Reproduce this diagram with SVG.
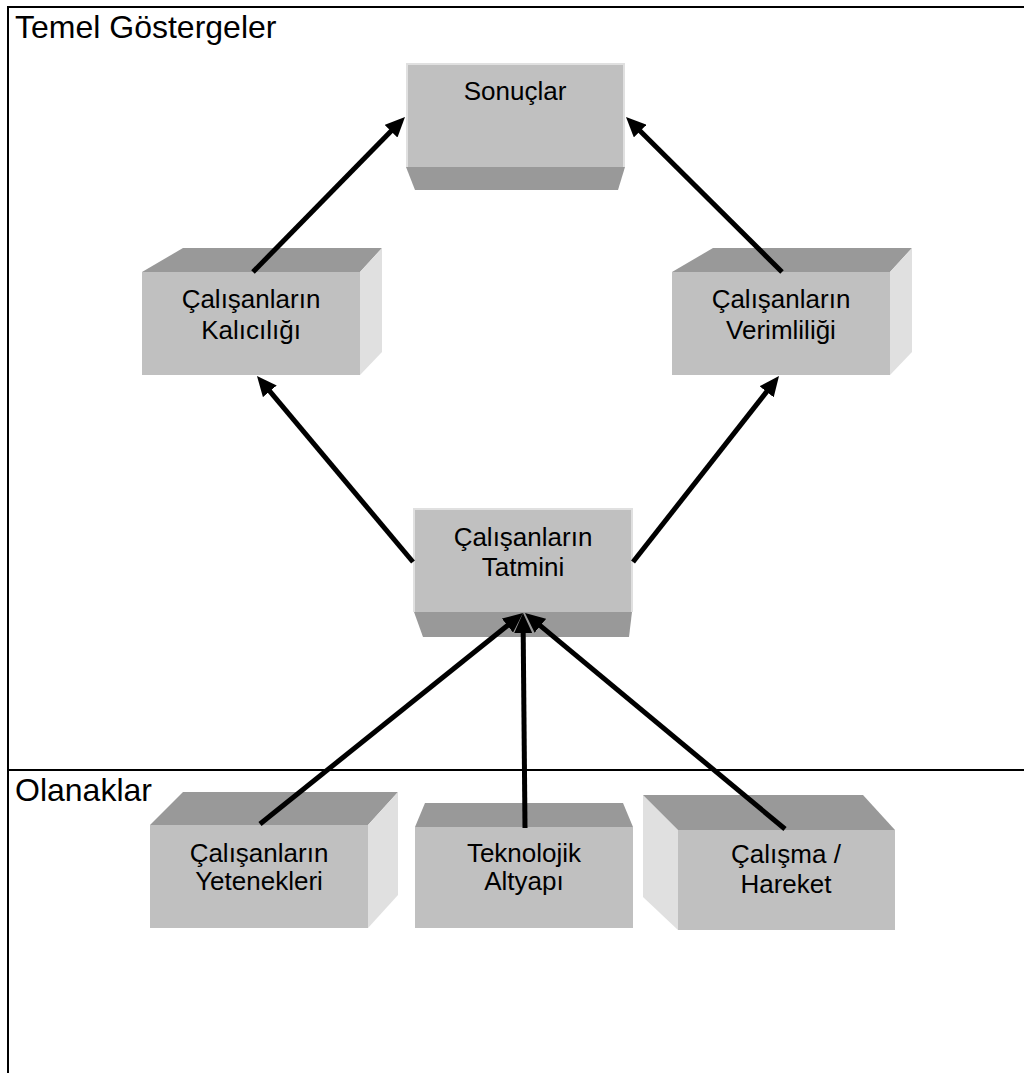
<svg xmlns="http://www.w3.org/2000/svg" width="1024" height="1073" viewBox="0 0 1024 1073">
<defs>
<style>
.frame{stroke:#000;stroke-width:2;fill:none}
.front{fill:#c0c0c0}
.dark{fill:#999999}
.light{fill:#e0e0e0}
.t{font-family:"Liberation Sans",Arial,sans-serif;font-size:26px;fill:#000;text-anchor:middle}
.lbl{font-family:"Liberation Sans",Arial,sans-serif;font-size:32px;fill:#000}
.arr{stroke:#000;stroke-width:5;fill:none;marker-end:url(#ah)}
</style>
<marker id="ah" markerUnits="userSpaceOnUse" markerWidth="20" markerHeight="18" refX="10" refY="9" orient="auto" viewBox="0 0 20 18">
<path d="M0,0 L20,9 L0,18 z" fill="#000"/>
</marker>
</defs>
<rect width="1024" height="1073" fill="#fff"/>
<g id="frame">
<line class="frame" x1="8" y1="7" x2="1024" y2="7"/>
<line class="frame" x1="8" y1="6" x2="8" y2="1073"/>
<line class="frame" x1="8" y1="770" x2="1024" y2="770"/>
<text class="lbl" x="15" y="38">Temel Göstergeler</text>
<text class="lbl" x="15" y="801">Olanaklar</text>
</g>
<g id="sonuclar">
<rect class="light" x="406" y="63" width="219" height="104"/>
<rect class="front" x="408" y="65" width="215" height="102"/>
<polygon class="dark" points="406,167 625,167 618,190 415,190"/>
<text class="t" x="515" y="100">Sonuçlar</text>
</g>
<g id="kalicilik">
<polygon class="dark" points="142,272 183,248 382,248 360,272"/>
<polygon class="light" points="360,272 382,248 382,352 360,375"/>
<rect class="front" x="142" y="272" width="218" height="103"/>
<text class="t" x="251" y="308">Çalışanların</text>
<text class="t" x="251" y="339">Kalıcılığı</text>
</g>
<g id="verimlilik">
<polygon class="dark" points="672,272 713,248 912,248 890,272"/>
<polygon class="light" points="890,272 912,248 912,352 890,375"/>
<rect class="front" x="672" y="272" width="218" height="103"/>
<text class="t" x="781" y="308">Çalışanların</text>
<text class="t" x="781" y="339">Verimliliği</text>
</g>
<g id="tatmin">
<rect class="light" x="413" y="508" width="220" height="104"/>
<rect class="front" x="415" y="510" width="216" height="102"/>
<polygon class="dark" points="414,612 632,612 629,637 423,637"/>
<text class="t" x="523" y="546">Çalışanların</text>
<text class="t" x="523" y="576">Tatmini</text>
</g>
<g id="yetenekler">
<polygon class="dark" points="150,825 183,792 398,792 368,825"/>
<polygon class="light" points="368,825 398,792 398,895 368,928"/>
<rect class="front" x="150" y="825" width="218" height="103"/>
<text class="t" x="259" y="862">Çalışanların</text>
<text class="t" x="259" y="890">Yetenekleri</text>
</g>
<g id="teknoloji">
<polygon class="dark" points="415,827 425,803 623,803 633,827"/>
<rect class="front" x="415" y="827" width="218" height="101"/>
<text class="t" x="524" y="862">Teknolojik</text>
<text class="t" x="524" y="890">Altyapı</text>
</g>
<g id="calisma">
<polygon class="light" points="643,795 678,830 678,930 643,897"/>
<polygon class="dark" points="643,795 863,795 895,830 678,830"/>
<rect class="front" x="678" y="830" width="217" height="100"/>
<text class="t" x="786" y="863">Çalışma /</text>
<text class="t" x="786" y="893">Hareket</text>
</g>
<g id="connectors">
<line class="arr" x1="253" y1="272" x2="398" y2="124.1"/>
<line class="arr" x1="782" y1="272" x2="633.1" y2="124"/>
<line class="arr" x1="413" y1="562" x2="263.4" y2="383.7"/>
<line class="arr" x1="633" y1="562" x2="772.8" y2="383.9"/>
<line class="arr" x1="260" y1="824" x2="515.2" y2="619.3"/>
<line class="arr" x1="525" y1="828" x2="523.1" y2="623"/>
<line class="arr" x1="785" y1="829" x2="532.7" y2="619.4"/>
</g>
</svg>
